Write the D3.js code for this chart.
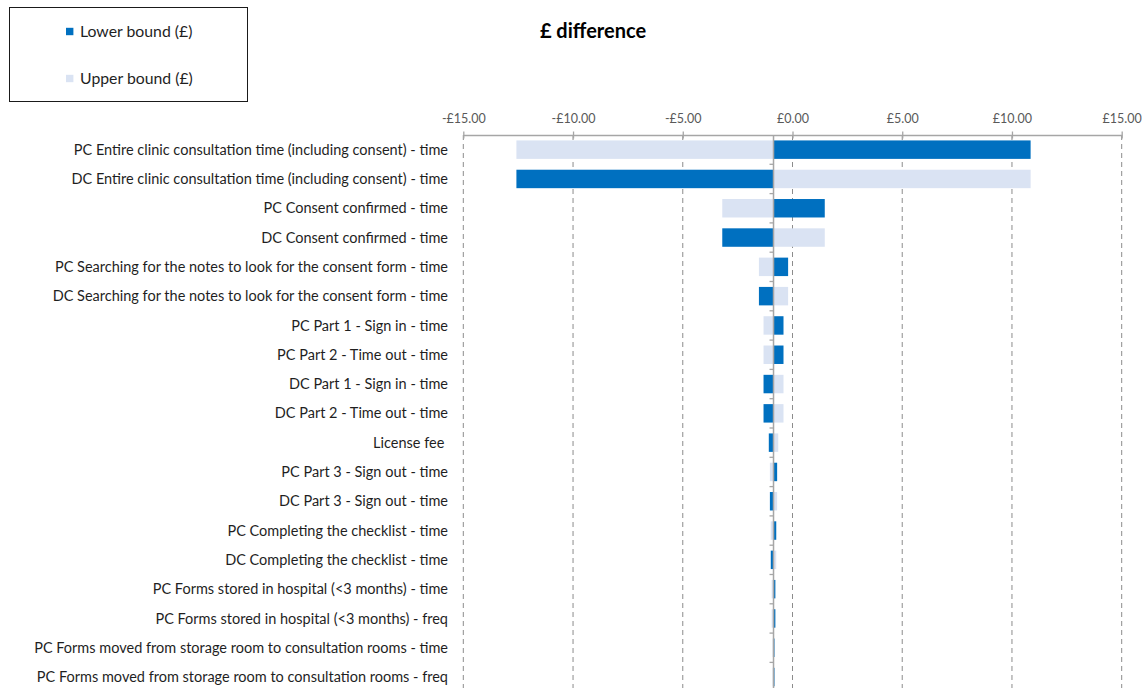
<!DOCTYPE html>
<html>
<head>
<meta charset="utf-8">
<script src="https://cdn.jsdelivr.net/npm/d3@7/dist/d3.min.js"></script>
<style>
  html, body { margin: 0; padding: 0; background: #ffffff; }
  svg { display: block; }
  text { font-family: Lato, "Open Sans", "Liberation Sans", sans-serif; }
</style>
</head>
<body>
<svg id="chart" width="1145" height="688"></svg>
<script>
// Sensitivity parameters, listed top to bottom
const categories = [
  "PC Entire clinic consultation time (including consent) - time",
  "DC Entire clinic consultation time (including consent) - time",
  "PC Consent confirmed - time",
  "DC Consent confirmed - time",
  "PC Searching for the notes to look for the consent form - time",
  "DC Searching for the notes to look for the consent form - time",
  "PC Part 1 - Sign in - time",
  "PC Part 2 - Time out - time",
  "DC Part 1 - Sign in - time",
  "DC Part 2 - Time out - time",
  "License fee ",
  "PC Part 3 - Sign out - time",
  "DC Part 3 - Sign out - time",
  "PC Completing the checklist - time",
  "DC Completing the checklist - time",
  "PC Forms stored in hospital (<3 months) - time",
  "PC Forms stored in hospital (<3 months) - freq",
  "PC Forms moved from storage room to consultation rooms - time",
  "PC Forms moved from storage room to consultation rooms - freq"
];

// £ difference with each parameter at its lower bound
const lowerBound = [10.85, -12.58, 1.47, -3.20, -0.20, -1.53, -0.41, -0.41, -1.32, -1.32,
                    -1.08, -0.70, -1.03, -0.74, -0.99, -0.78, -0.78, -0.82, -0.82];
// £ difference with each parameter at its upper bound
const upperBound = [-12.58, 10.85, -3.20, 1.47, -1.53, -0.20, -1.32, -1.32, -0.41, -0.41,
                    -0.65, -1.03, -0.70, -0.99, -0.74, -0.95, -0.95, -0.91, -0.91];

// Base-case £ difference, where the category axis crosses
const baseValue = -0.865;

const tickValues = [-15, -10, -5, 0, 5, 10, 15];
const seriesNames = ["Lower bound (£)", "Upper bound (£)"];
const seriesColors = ["#0070C0", "#DAE3F3"];

const svg = d3.select("#chart");

const plotTop = 135;
const rowStep = 29.3;
const x = d3.scaleLinear().domain([-15, 15]).range([463.3, 1121.7]);
const y = d3.scaleBand()
  .domain(categories)
  .range([plotTop, plotTop + rowStep * categories.length])
  .paddingInner(0.37)
  .paddingOuter(0.185);

const axisColor = "#A6A6A6";
const plotBottom = plotTop + rowStep * categories.length;

// Dashed vertical gridlines
svg.append("g")
  .selectAll("line")
  .data(tickValues)
  .join("line")
  .attr("x1", d => x(d)).attr("x2", d => x(d))
  .attr("y1", plotTop).attr("y2", plotBottom)
  .attr("stroke", "#8C8C8C")
  .attr("stroke-width", 1)
  .attr("stroke-dasharray", "5,4");

// Bars grow out from the base case value
const xBase = x(baseValue);
function barGroup(values, color) {
  svg.append("g")
    .selectAll("rect")
    .data(values)
    .join("rect")
    .attr("x", d => Math.min(x(d), xBase))
    .attr("width", d => Math.abs(x(d) - xBase))
    .attr("y", (d, i) => y(categories[i]))
    .attr("height", y.bandwidth())
    .attr("fill", color);
}
barGroup(upperBound, seriesColors[1]);
barGroup(lowerBound, seriesColors[0]);

// Top value axis
const xAxis = d3.axisTop(x)
  .tickValues(tickValues)
  .tickSize(0)
  .tickPadding(12)
  .tickFormat(d => (d < 0 ? "-" : "") + "£" + Math.abs(d).toFixed(2));

const gx = svg.append("g")
  .attr("transform", `translate(0,${plotTop})`)
  .call(xAxis);
gx.select(".domain").attr("stroke", axisColor).attr("stroke-width", 1.3);
gx.selectAll(".tick line").remove();
gx.selectAll(".tick")
  .append("line")
  .attr("y1", -3.5).attr("y2", 3.5)
  .attr("stroke", axisColor).attr("stroke-width", 1.3);
gx.selectAll(".tick text")
  .attr("fill", "#595959")
  .style("font-size", "12.5px")
  .style("font-family", "Lato, 'Open Sans', sans-serif");

// Category axis through the base case
svg.append("line")
  .attr("x1", xBase).attr("x2", xBase)
  .attr("y1", plotTop).attr("y2", plotBottom)
  .attr("stroke", axisColor).attr("stroke-width", 1.5);

const boundaries = d3.range(1, categories.length + 1).map(i => plotTop + rowStep * i);
svg.append("g")
  .selectAll("line")
  .data(boundaries)
  .join("line")
  .attr("x1", xBase - 4).attr("x2", xBase)
  .attr("y1", d => d).attr("y2", d => d)
  .attr("stroke", axisColor).attr("stroke-width", 1.3);

// Category labels
svg.append("g")
  .selectAll("text")
  .data(categories)
  .join("text")
  .attr("x", 448)
  .attr("y", d => y(d) + y.bandwidth() / 2)
  .attr("dy", "0.35em")
  .attr("text-anchor", "end")
  .attr("fill", "#1f1f1f")
  .style("font-size", "14.5px")
  .style("white-space", "pre")
  .text(d => d);

// Title
svg.append("text")
  .attr("x", 593)
  .attr("y", 31)
  .attr("dy", "0.35em")
  .attr("text-anchor", "middle")
  .attr("fill", "#000000")
  .style("font-size", "20px")
  .style("font-weight", "bold")
  .text("£ difference");

// Legend
const legend = svg.append("g");
legend.append("rect")
  .attr("x", 9.5).attr("y", 7.5)
  .attr("width", 238).attr("height", 94)
  .attr("fill", "#ffffff")
  .attr("stroke", "#1a1a1a")
  .attr("stroke-width", 1);
const legendRows = [31.5, 78.5];
seriesNames.forEach((name, i) => {
  legend.append("rect")
    .attr("x", 66).attr("y", legendRows[i] - 3.7)
    .attr("width", 7.4).attr("height", 7.4)
    .attr("fill", seriesColors[i]);
  legend.append("text")
    .attr("x", 80)
    .attr("y", legendRows[i])
    .attr("dy", "0.35em")
    .attr("fill", "#1f1f1f")
    .style("font-size", "15.8px")
    .text(name);
});
</script>
</body>
</html>
